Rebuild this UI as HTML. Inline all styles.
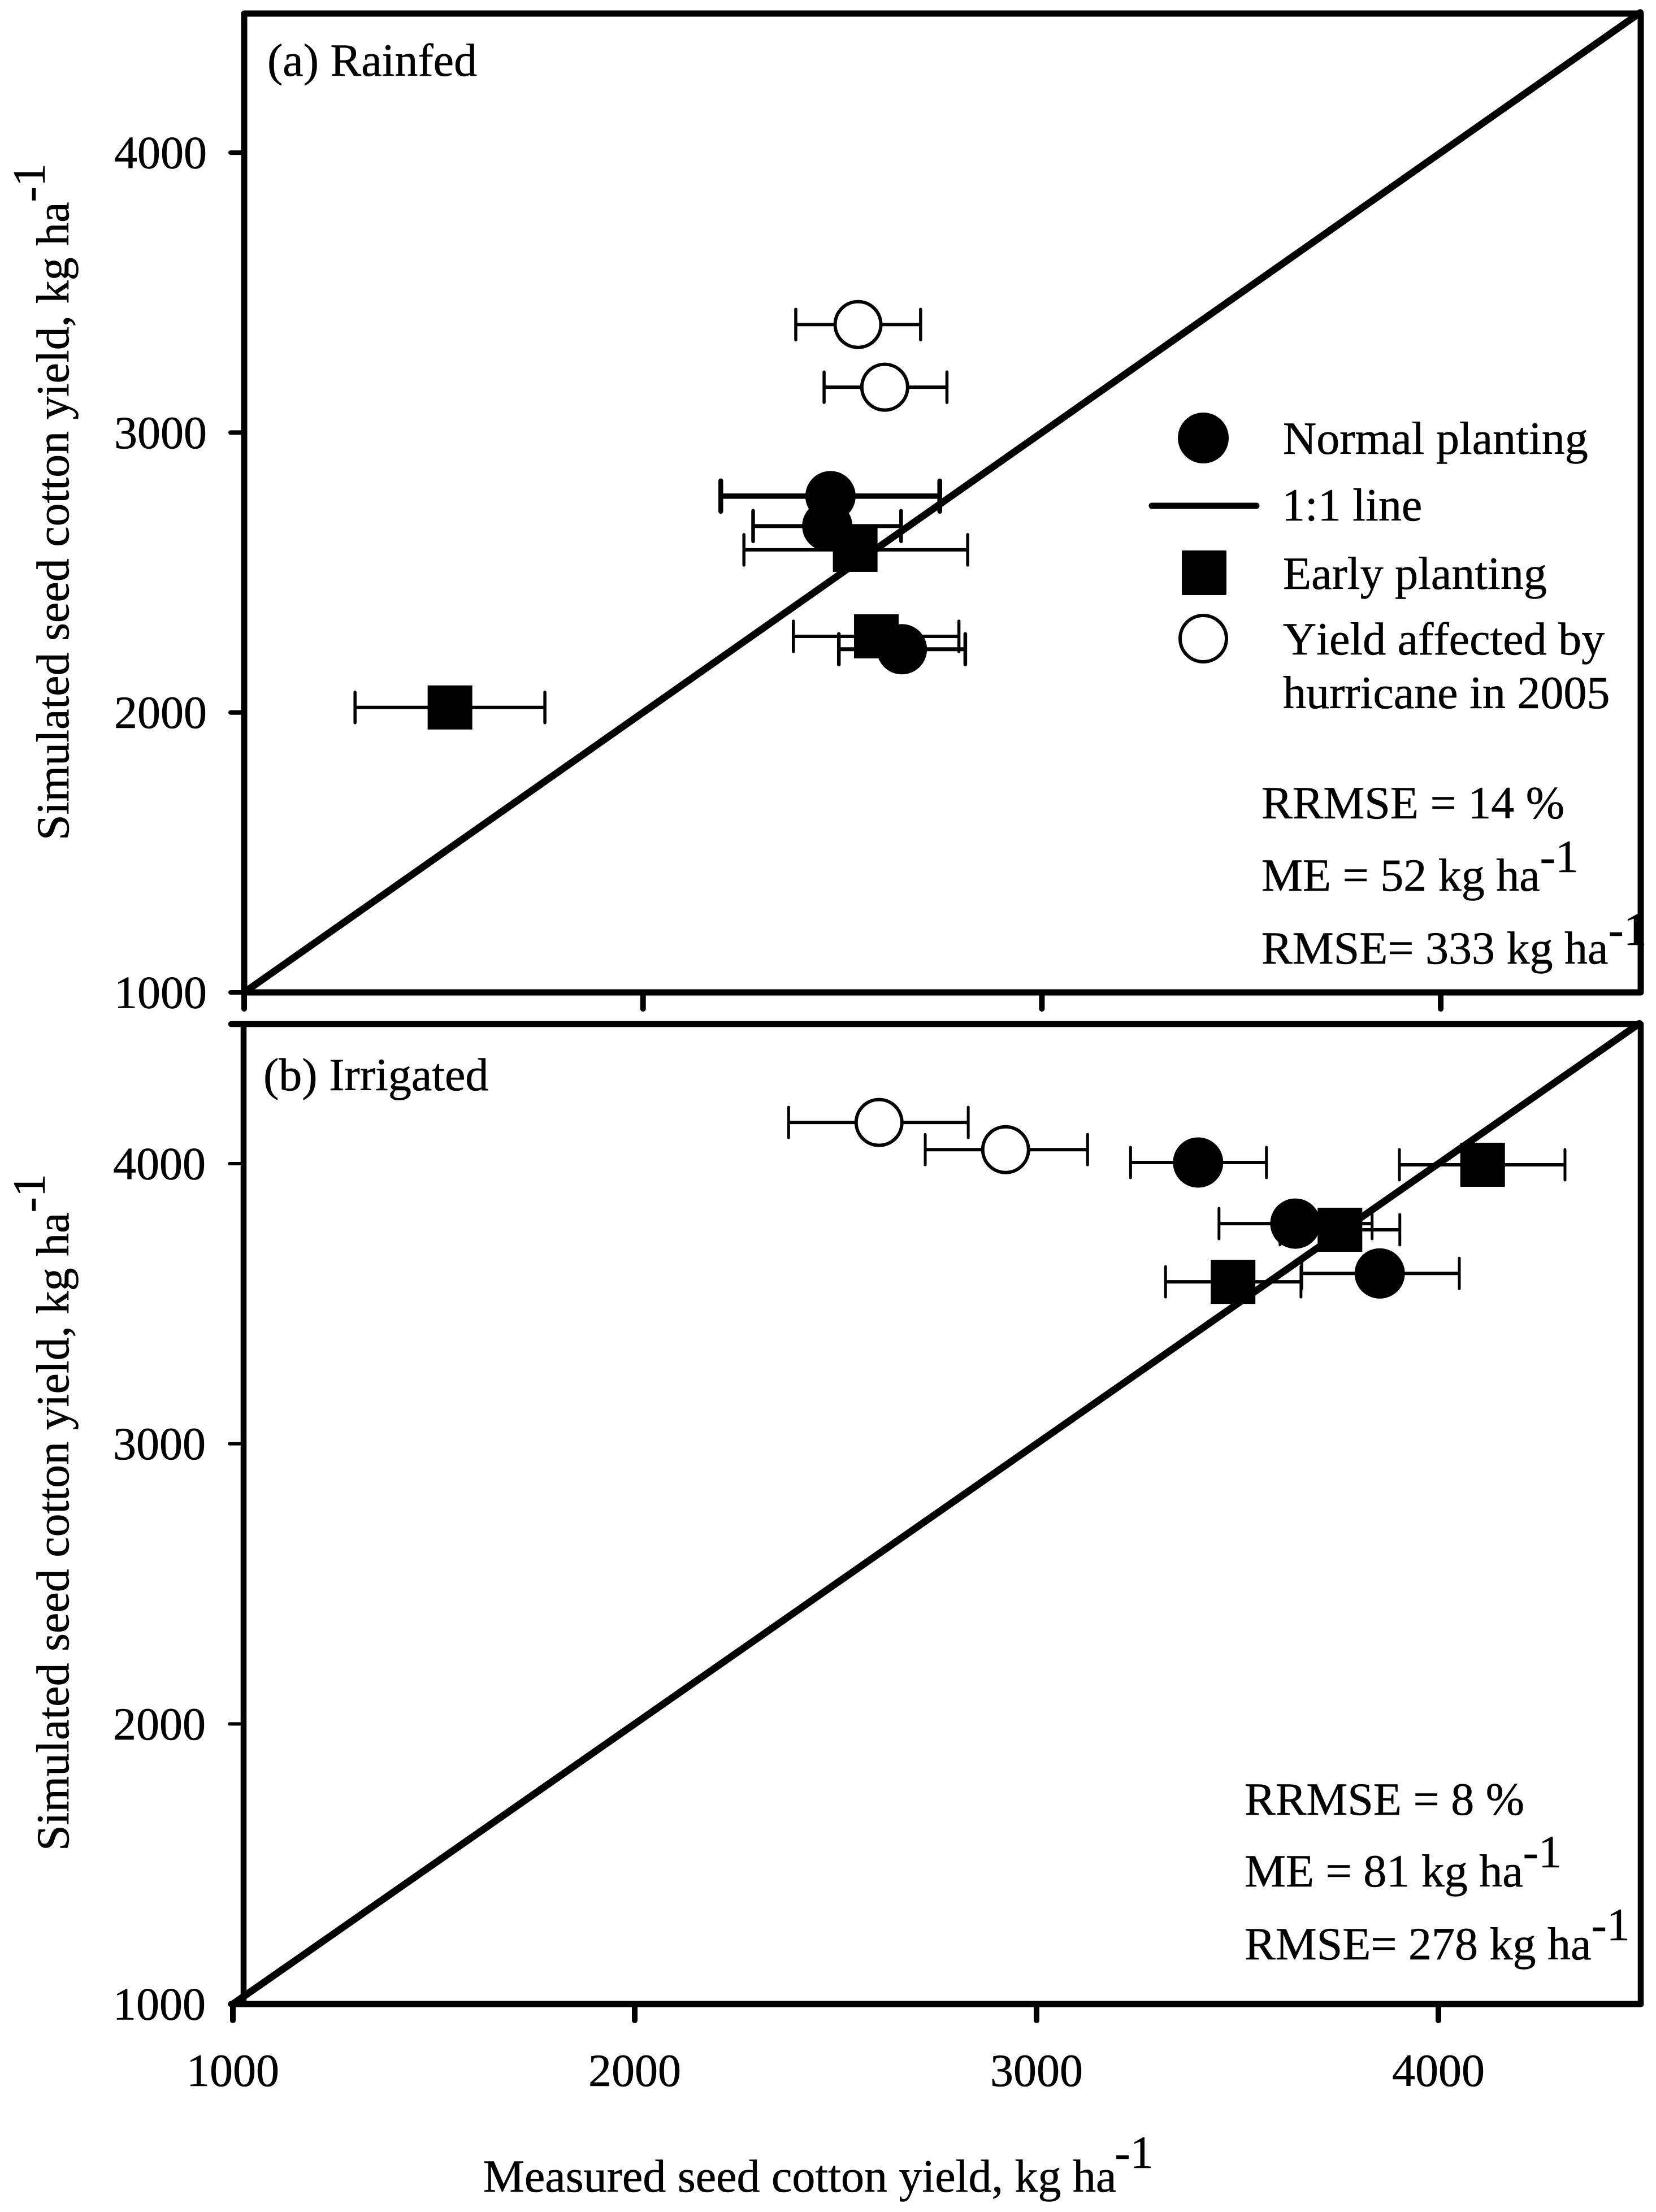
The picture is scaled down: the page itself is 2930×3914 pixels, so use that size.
<!DOCTYPE html>
<html lang="en">
<head>
<meta charset="utf-8">
<title>Simulated vs measured seed cotton yield</title>
<style>
  html, body { margin: 0; padding: 0; background: #fff; }
  svg { display: block; }
  text { font-family: "Liberation Serif", "Times New Roman", serif; font-size: 82px; fill: #000; font-kerning: none; stroke: #000; stroke-width: 0.6px; }
</style>
</head>
<body>
<svg id="chart" xmlns="http://www.w3.org/2000/svg" width="2930" height="3914" viewBox="0 0 2930 3914">
  <rect x="0" y="0" width="2930" height="3914" fill="#fff"/>
  <g id="panelA"></g>
  <g id="panelB"></g>

  <g>
    <text x="473" y="134">(a) Rainfed</text>
    <text transform="translate(121 1487) rotate(-90)">Simulated seed cotton yield, kg ha<tspan dy="-42">-1</tspan></text>

    <g>
      <circle cx="2129" cy="775" r="45" fill="#000"/>
      <text x="2270" y="803">Normal planting</text>
      <line x1="2038" y1="895" x2="2223" y2="895" stroke="#000" stroke-width="11" stroke-linecap="round"/>
      <text x="2268" y="921">1:1 line</text>
      <rect x="2091" y="974" width="79" height="79" rx="2" fill="#000"/>
      <text x="2270" y="1042">Early planting</text>
      <circle cx="2129" cy="1130" r="41" fill="#fff" stroke="#000" stroke-width="6"/>
      <text x="2270" y="1158">Yield affected by</text>
      <text x="2270" y="1253">hurricane in 2005</text>
    </g>

    <text x="2232" y="1448">RRMSE = 14 %</text>
    <text x="2232" y="1576">ME = 52 kg ha<tspan dy="-33">-1</tspan></text>
    <text x="2232" y="1705">RMSE= 333 kg ha<tspan dy="-33">-1</tspan></text>
  </g>

  <g>
    <text x="466" y="1929">(b) Irrigated</text>
    <text transform="translate(121 3275) rotate(-90)">Simulated seed cotton yield, kg ha<tspan dy="-42">-1</tspan></text>
    <text x="2202" y="3211">RRMSE = 8 %</text>
    <text x="2202" y="3338">ME = 81 kg ha<tspan dy="-34">-1</tspan></text>
    <text x="2202" y="3467">RMSE= 278 kg ha<tspan dy="-34">-1</tspan></text>
    <text x="855" y="3878">Measured seed cotton yield, kg ha<tspan dy="-42" dx="-3">-1</tspan></text>
  </g>
</svg>

<script>
// Axis ticks and 1:1 line
const tickValues = [1000, 2000, 3000, 4000];
const oneToOne = [1000, 4500];

// Panel (a) Rainfed: normal planting
const aNormalX = [2470, 2462, 2649];
const aNormalY = [2773, 2666, 2226];
const aNormalXLow = [2195, 2276, 2491];
const aNormalXHigh = [2744, 2647, 2808];

// Panel (a) Rainfed: early planting
const aEarlyX = [1516, 2532, 2585];
const aEarlyY = [2018, 2581, 2272];
const aEarlyXLow = [1278, 2253, 2377];
const aEarlyXHigh = [1754, 2814, 2792];

// Panel (a) Rainfed: yield affected by hurricane
const aHurricaneX = [2539, 2606];
const aHurricaneY = [3386, 3162];
const aHurricaneXLow = [2383, 2454];
const aHurricaneXHigh = [2696, 2762];

// Panel (b) Irrigated: normal planting
const bNormalX = [3402, 3644, 3854];
const bNormalY = [4004, 3786, 3608];
const bNormalXLow = [3234, 3454, 3660];
const bNormalXHigh = [3572, 3835, 4052];

// Panel (b) Irrigated: early planting
const bEarlyX = [4110, 3755, 3489];
const bEarlyY = [3996, 3764, 3578];
const bEarlyXLow = [3903, 3606, 3321];
const bEarlyXHigh = [4315, 3904, 3658];

// Panel (b) Irrigated: yield affected by hurricane
const bHurricaneX = [2608, 2923];
const bHurricaneY = [4147, 4050];
const bHurricaneXLow = [2383, 2723];
const bHurricaneXHigh = [2830, 3127];

const NS = 'http://www.w3.org/2000/svg';

function xA(v) { return 432 + (v - 1000) * 0.7057; }
function yA(v) { return 1756 - (v - 1000) * 0.4953; }
function xB(v) { return 412 + (v - 1000) * 0.711; }
function yB(v) { return 3546 - (v - 1000) * 0.49567; }

function make(tag, attrs, parent) {
  const el = document.createElementNS(NS, tag);
  for (const k in attrs) el.setAttribute(k, attrs[k]);
  parent.appendChild(el);
  return el;
}

function drawLine(parent, x1, y1, x2, y2, width, cap) {
  return make('line', { x1: x1, y1: y1, x2: x2, y2: y2, stroke: '#000', 'stroke-width': width, 'stroke-linecap': cap || 'round' }, parent);
}

function drawErrorBar(parent, low, high, y, lineWidth, capWidth) {
  const g = make('g', {}, parent);
  
  
  drawLine(g, low, y, high, y, lineWidth, 'butt');
  drawLine(g, low, y - 27, low, y + 27, capWidth);
  drawLine(g, high, y - 27, high, y + 27, capWidth);
}

function drawCircles(parent, name, xs, ys, lows, highs, sx, sy, hollow, lineWidth, capWidth, heavyIndex) {
  xs.forEach(function (v, i) {
    const cy = sy(ys[i]);
    const lw = i === heavyIndex ? lineWidth + 2.5 : lineWidth;
    const cw = i === heavyIndex ? capWidth + 2 : capWidth;
    drawErrorBar(parent, sx(lows[i]), sx(highs[i]), cy, lw, cw);
    const c = make('circle', {
      cx: sx(v), cy: cy, r: hollow ? 40.5 : 44.5,
      fill: hollow ? '#fff' : '#000',
      stroke: hollow ? '#000' : 'none',
      'stroke-width': hollow ? 6 : 0
    }, parent);
    
    
  });
}

function drawSquares(parent, name, xs, ys, lows, highs, sx, sy, lineWidth, capWidth) {
  xs.forEach(function (v, i) {
    const cy = sy(ys[i]);
    drawErrorBar(parent, sx(lows[i]), sx(highs[i]), cy, lineWidth, capWidth);
    const r = make('rect', { x: sx(v) - 39.5, y: cy - 39, width: 79, height: 78, fill: '#000' }, parent);
    
    
  });
}

function drawYTick(parent, value, sy, x1, x2, width, labelX) {
  const y = sy(value);
  const tick = drawLine(parent, x1, y, x2, y, width);
  
  
  const t = make('text', { x: labelX, y: y + 27.5, 'text-anchor': 'end' }, parent);
  t.textContent = String(value);
  
  
}

function drawXTick(parent, value, sx, y1, y2) {
  const x = sx(value);
  const tick = drawLine(parent, x, y1, x, y2, 10);
  
  
}

// Panel A
const pA = document.getElementById('panelA');
const lineA = drawLine(pA, xA(oneToOne[0]), yA(oneToOne[0]), xA(oneToOne[1]), yA(oneToOne[1]), 12.5);


const frameA = make('rect', { x: 432, y: 24, width: 2471, height: 1732, fill: 'none', stroke: '#000', 'stroke-width': 11, 'stroke-linejoin': 'round' }, pA);


tickValues.forEach(function (v) { drawYTick(pA, v, yA, 408, 432, 8, 366); });
tickValues.forEach(function (v) { drawXTick(pA, v, xA, 1756, 1785); });
drawCircles(pA, 'panel-a-hurricane-point', aHurricaneX, aHurricaneY, aHurricaneXLow, aHurricaneXHigh, xA, yA, true, 6, 5.5, -1);
drawSquares(pA, 'panel-a-early-point', aEarlyX, aEarlyY, aEarlyXLow, aEarlyXHigh, xA, yA, 6, 5.5);
drawCircles(pA, 'panel-a-normal-point', aNormalX, aNormalY, aNormalXLow, aNormalXHigh, xA, yA, false, 7, 6.5, 0);

// Panel B
const pB = document.getElementById('panelB');
const lineB = drawLine(pB, xB(oneToOne[0]), yB(oneToOne[0]), xB(oneToOne[1]), yB(oneToOne[1]), 12.5);


const frameTop = drawLine(pB, 409, 1812, 2903, 1812, 10.5);


const frameBottom = drawLine(pB, 409, 3546, 2903, 3546, 11);


const frameLeft = drawLine(pB, 431, 1812, 431, 3546, 10.5, 'butt');


const frameRight = drawLine(pB, 2903, 1812, 2903, 3546, 10.5);


tickValues.forEach(function (v) { drawYTick(pB, v, yB, 406, 431, 6, 364); });
tickValues.forEach(function (v) {
  drawXTick(pB, v, xB, 3546, 3575);
  const label = make('text', { x: xB(v), y: 3691, 'text-anchor': 'middle' }, pB);
  label.textContent = String(v);
  
  
});
drawCircles(pB, 'panel-b-hurricane-point', bHurricaneX, bHurricaneY, bHurricaneXLow, bHurricaneXHigh, xB, yB, true, 6, 5, -1);
drawSquares(pB, 'panel-b-early-point', bEarlyX, bEarlyY, bEarlyXLow, bEarlyXHigh, xB, yB, 6, 5);
drawCircles(pB, 'panel-b-normal-point', bNormalX, bNormalY, bNormalXLow, bNormalXHigh, xB, yB, false, 6, 5, -1);
</script>
</body>
</html>
